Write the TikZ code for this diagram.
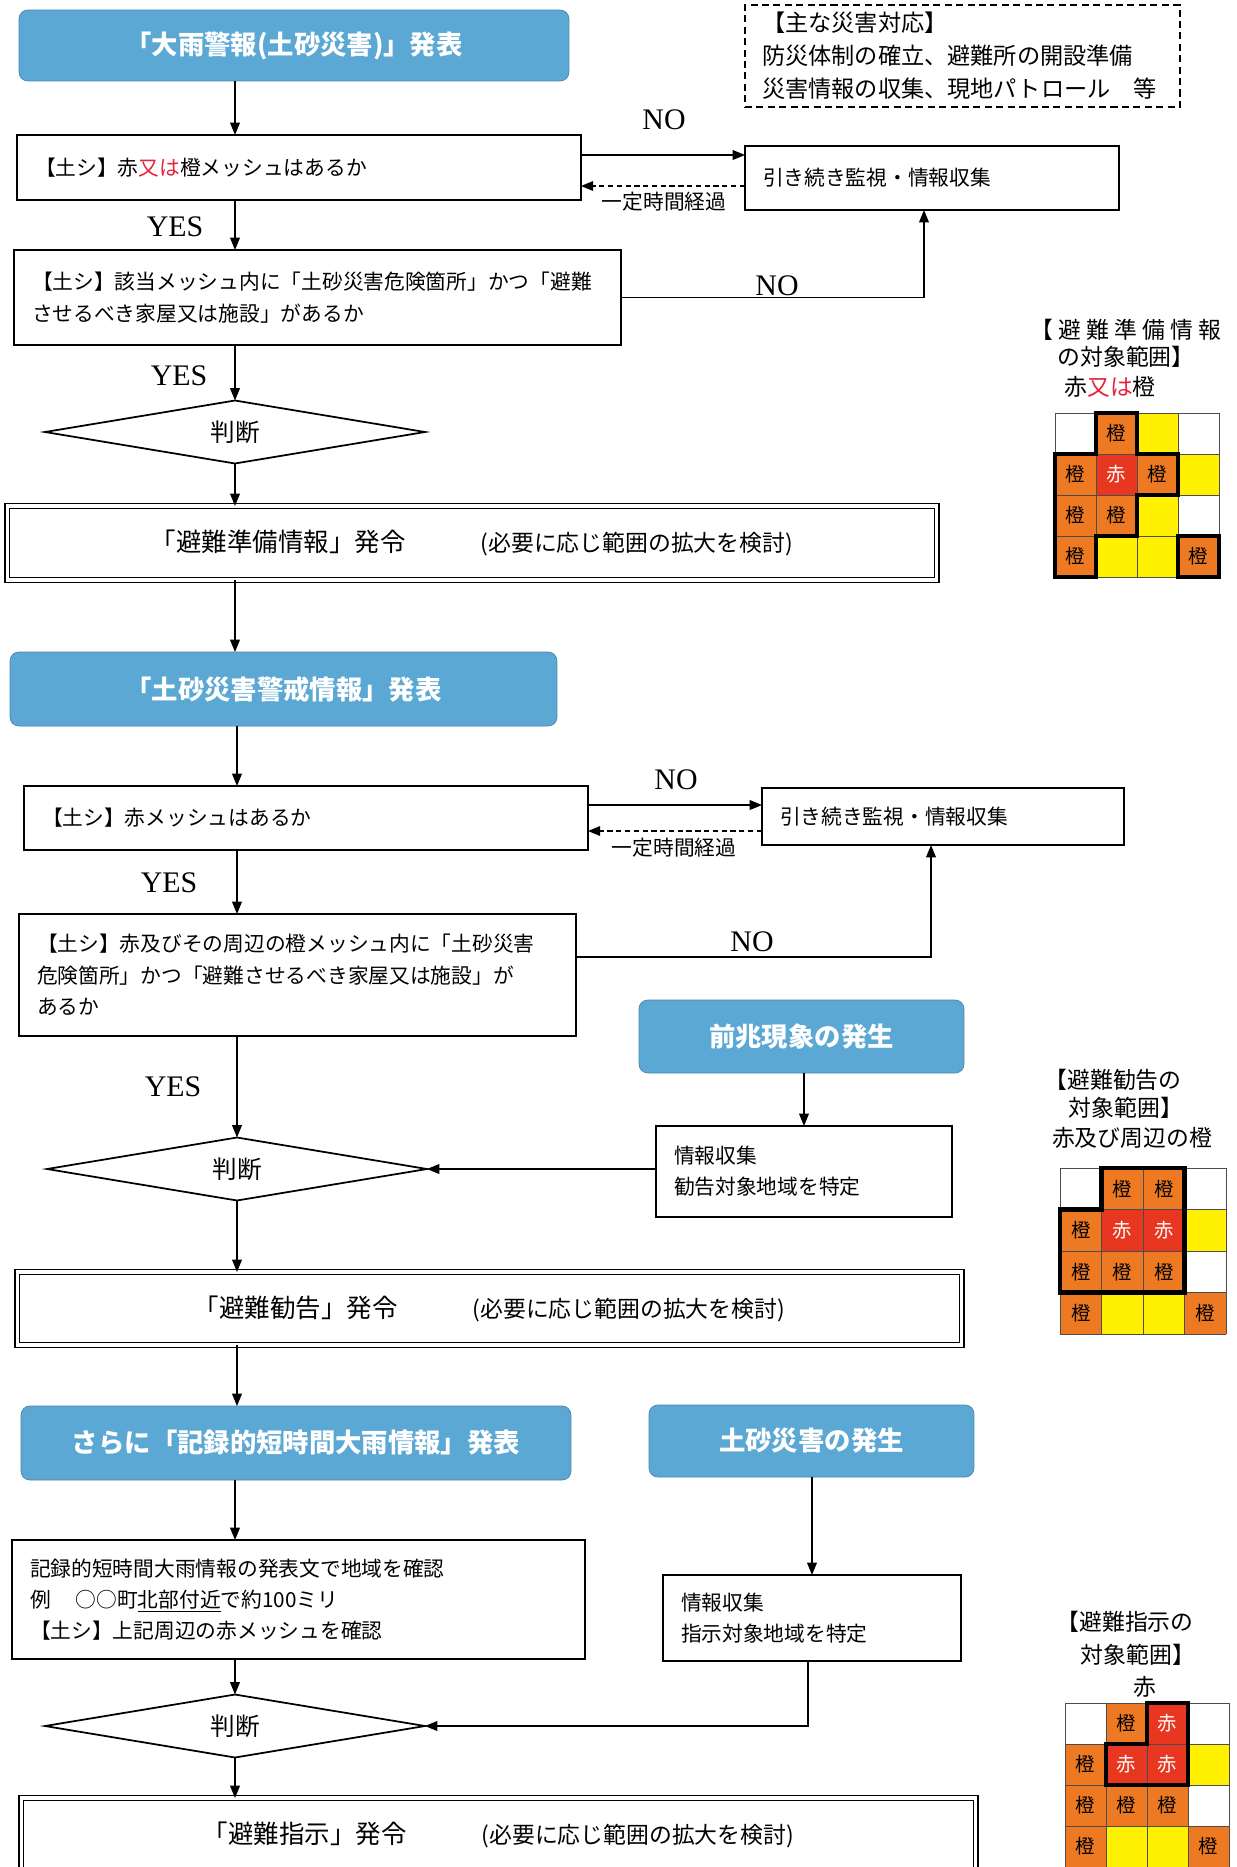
\documentclass[tikz,border=0pt]{standalone}
\usepackage{fontspec}
\setmainfont{Noto Sans CJK JP}
\newfontfamily\latinfont{Liberation Serif}
\usetikzlibrary{shapes.geometric,arrows.meta}
\definecolor{eventblue}{RGB}{91,168,213}
\definecolor{meshorange}{RGB}{237,121,35}
\definecolor{meshred}{RGB}{232,55,32}
\definecolor{meshyellow}{RGB}{255,241,0}
\definecolor{textred}{RGB}{230,35,60}

\begin{document}
\begin{tikzpicture}[
		x=0.02cm, y=-0.02cm,
		every node/.style={inner sep=0pt, outer sep=0pt},
		event/.style={rectangle, rounded corners=5pt, fill=eventblue, draw=eventblue!80!black, line width=0.4pt, text=white, font=\fontsize{15pt}{18pt}\selectfont\bfseries},
		query/.style={rectangle, draw, line width=1pt, fill=white, align=left, inner xsep=0.36cm, font=\fontsize{11.8pt}{17.8pt}\selectfont},
		order/.style={rectangle, draw, double, double distance=1.8pt, line width=0.7pt, fill=white},
		judge/.style={diamond, aspect=6, draw, line width=1pt, minimum width=7.6cm, minimum height=1.26cm, font=\fontsize{14pt}{16pt}\selectfont},
		note/.style={font=\fontsize{11.8pt}{14pt}\selectfont},
		yesno/.style={font=\fontsize{17pt}{20pt}\latinfont},
		legend/.style={font=\fontsize{13pt}{15pt}\selectfont},
		mesh/.style={minimum size=0.82cm, font=\fontsize{11pt}{12pt}\selectfont},
		meshline/.style={gray!60!black, line width=0.4pt},
		meshedge/.style={line width=2.6pt},
		arr/.style={-{Triangle[length=7pt,width=5.5pt]}, line width=0.85pt},
		back/.style={arr, dash pattern=on 3pt off 2pt}
	]
  \useasboundingbox[fill=white] (0,0) rectangle (1237,1867);

  % stage 1
  \node (heavy) [event, minimum width=11cm, minimum height=1.42cm] at (294,45.5) {「大雨警報(土砂災害)」発表};
  \node (tasks) [draw, dash pattern=on 4pt off 2.5pt, line width=0.7pt, align=left, text width=8.02cm, inner xsep=0.34cm, minimum height=2.04cm, font=\fontsize{13.2pt}{18.8pt}\selectfont] at (962.5,56) {【主な災害対応】\\防災体制の確立、避難所の開設準備\\災害情報の収集、現地パトロール　等};
  \node (q_1) [query, text width=10.56cm, minimum height=1.3cm] at (299,167.5) {【土シ】赤\textcolor{textred}{又は}橙メッシュはあるか};
  \node (watch_1) [query, text width=6.76cm, minimum height=1.28cm] at (932,178) {引き続き監視・情報収集};
  \node (q_2) [query, text width=11.42cm, minimum height=1.9cm] at (317.5,297.5) {【土シ】該当メッシュ内に「土砂災害危険箇所」かつ「避難\\させるべき家屋又は施設」があるか};
  \node (judge_1) [judge] at (235,432) {判断};
  \node (order_1) [order, minimum width=18.6cm, minimum height=1.48cm] at (472,543) {{\fontsize{14.5pt}{16pt}\selectfont 「避難準備情報」発令}\hspace{1.5cm}{\fontsize{13pt}{15pt}\selectfont (必要に応じ範囲の拡大を検討)}};
  \node (no_1) [yesno] at (664,120) {NO};
  \node (wait_1) [note] at (664,202) {一定時間経過};
  \node (yes_1) [yesno] at (175,227) {YES};
  \node (no_2) [yesno] at (777,286) {NO};
  \node (yes_2) [yesno] at (179,376) {YES};

  % stage 2
  \node (alert) [event, minimum width=10.94cm, minimum height=1.48cm] at (283.5,689) {「土砂災害警戒情報」発表};
  \node (q_3) [query, text width=10.56cm, minimum height=1.28cm] at (306,818) {【土シ】赤メッシュはあるか};
  \node (watch_2) [query, text width=6.52cm, minimum height=1.14cm] at (943,816.5) {引き続き監視・情報収集};
  \node (q_4) [query, text width=10.42cm, minimum height=2.44cm] at (297.5,975) {【土シ】赤及びその周辺の橙メッシュ内に「土砂災害\\危険箇所」かつ「避難させるべき家屋又は施設」が\\あるか};
  \node (sign) [event, minimum width=6.5cm, minimum height=1.46cm] at (801.5,1036.5) {前兆現象の発生};
  \node (info_1) [query, text width=5.2cm, minimum height=1.82cm] at (804,1171.5) {情報収集\\勧告対象地域を特定};
  \node (judge_2) [judge] at (237,1169) {判断};
  \node (order_2) [order, minimum width=18.9cm, minimum height=1.46cm] at (489.5,1308.5) {{\fontsize{14.5pt}{16pt}\selectfont 「避難勧告」発令}\hspace{1.5cm}{\fontsize{13pt}{15pt}\selectfont (必要に応じ範囲の拡大を検討)}};
  \node (no_3) [yesno] at (676,780) {NO};
  \node (wait_2) [note] at (674,848) {一定時間経過};
  \node (yes_3) [yesno] at (169,883) {YES};
  \node (no_4) [yesno] at (752,942) {NO};
  \node (yes_4) [yesno] at (173,1087) {YES};

  % stage 3
  \node (record) [event, minimum width=11cm, minimum height=1.48cm] at (296,1443) {さらに「記録的短時間大雨情報」発表};
  \node (slide) [event, minimum width=6.5cm, minimum height=1.44cm] at (811.5,1441) {土砂災害の発生};
  \node (q_5) [query, text width=10.74cm, minimum height=2.38cm] at (298.5,1599.5) {記録的短時間大雨情報の発表文で地域を確認\\例\hspace{1.2em}○○町\underline{北部付近}で約100ミリ\\【土シ】上記周辺の赤メッシュを確認};
  \node (info_2) [query, text width=5.24cm, minimum height=1.72cm] at (812,1618) {情報収集\\指示対象地域を特定};
  \node (judge_3) [judge] at (235,1726) {判断};
  \node (order_3) [order, minimum width=19.1cm, minimum height=1.48cm] at (498.5,1835) {{\fontsize{14.5pt}{16pt}\selectfont 「避難指示」発令}\hspace{1.5cm}{\fontsize{13pt}{15pt}\selectfont (必要に応じ範囲の拡大を検討)}};

  % main column
  \draw [arr] (heavy.south -| judge_1) -- (q_1.north -| judge_1);
  \draw [arr] (q_1.south -| judge_1) -- (q_2.north -| judge_1);
  \draw [arr] (q_2.south -| judge_1) -- (judge_1.north);
  \draw [arr] (judge_1.south) -- (order_1.north -| judge_1);
  \draw [arr] (order_1.south -| judge_1) -- (alert.north -| judge_1);
  \draw [arr] (alert.south -| judge_2) -- (q_3.north -| judge_2);
  \draw [arr] (q_3.south -| judge_2) -- (q_4.north -| judge_2);
  \draw [arr] (q_4.south -| judge_2) -- (judge_2.north);
  \draw [arr] (judge_2.south) -- (order_2.north -| judge_2);
  \draw [arr] (order_2.south -| judge_2) -- (record.north -| judge_2);
  \draw [arr] (record.south -| judge_3) -- (q_5.north -| judge_3);
  \draw [arr] (q_5.south -| judge_3) -- (judge_3.north);
  \draw [arr] (judge_3.south) -- (order_3.north -| judge_3);

  % side branches
  \draw [arr] ([yshift=0.25cm]q_1.east) -- ([yshift=0.25cm]q_1.east -| watch_1.west);
  \draw [back] ([yshift=-0.16cm]watch_1.west) -- ([yshift=-0.16cm]watch_1.west -| q_1.east);
  \draw [arr] (q_2.east) -| ([xshift=-0.16cm]watch_1.south);
  \draw [arr] ([yshift=0.26cm]q_3.east) -- ([yshift=0.26cm]q_3.east -| watch_2.west);
  \draw [back] ([yshift=-0.29cm]watch_2.west) -- ([yshift=-0.29cm]watch_2.west -| q_3.east);
  \draw [arr] ([yshift=0.36cm]q_4.east) -| ([xshift=-0.24cm]watch_2.south);
  \draw [arr] (sign.south -| info_1) -- (info_1.north);
  \draw [arr] (info_1.west |- judge_2) -- (judge_2.east);
  \draw [arr] (slide.south -| info_2) -- (info_2.north);
  \draw [arr] ([xshift=-0.08cm]info_2.south) |- (judge_3.east);

  % meshes
  \node (leg_1a) [legend] at (1126,330) {\addfontfeature{LetterSpace=22}【避難準備情報};
  \node (leg_1b) [legend] at (1126,357) {の対象範囲】};
  \node (leg_1c) [legend] at (1110,387) {赤\textcolor{textred}{又は}橙};
  \begin{scope}[shift={(1055,413)}, x=0.82cm, y=-0.82cm]
    \foreach \c/\r in {1/0,0/1,2/1,0/2,1/2,0/3,3/3}
      \node (m1_\c\r) [mesh, fill=meshorange] at (\c+0.5,\r+0.5) {橙};
    \foreach \c/\r in {1/1}
      \node (m1_\c\r) [mesh, fill=meshred, text=white] at (\c+0.5,\r+0.5) {赤};
    \foreach \c/\r in {2/0,3/1,2/2,1/3,2/3}
      \fill [meshyellow] (\c,\r) rectangle ++(1,1);
    \foreach \i in {0,...,4}
      \draw [meshline] (\i,0) -- (\i,4) (0,\i) -- (4,\i);
    \draw [meshedge] (1,0) -- (2,0) -- (2,1) -- (3,1) -- (3,2) -- (2,2) -- (2,3) -- (1,3) -- (1,4) -- (0,4) -- (0,1) -- (1,1) -- cycle;
    \draw [meshedge] (3,3) rectangle (4,4);
  \end{scope}

  \node (leg_2a) [legend] at (1113,1080) {【避難勧告の};
  \node (leg_2b) [legend] at (1126,1108) {対象範囲】};
  \node (leg_2c) [legend] at (1132,1138) {赤及び周辺の橙};
  \begin{scope}[shift={(1060,1168)}, x=0.83cm, y=-0.83cm]
    \foreach \c/\r in {1/0,2/0,0/1,0/2,1/2,2/2,0/3,3/3}
      \node (m2_\c\r) [mesh, minimum size=0.83cm, fill=meshorange] at (\c+0.5,\r+0.5) {橙};
    \foreach \c/\r in {1/1,2/1}
      \node (m2_\c\r) [mesh, minimum size=0.83cm, fill=meshred, text=white] at (\c+0.5,\r+0.5) {赤};
    \foreach \c/\r in {3/1,1/3,2/3}
      \fill [meshyellow] (\c,\r) rectangle ++(1,1);
    \foreach \i in {0,...,4}
      \draw [meshline] (\i,0) -- (\i,4) (0,\i) -- (4,\i);
    \draw [meshedge] (1,0) -- (3,0) -- (3,3) -- (0,3) -- (0,1) -- (1,1) -- cycle;
  \end{scope}

  \node (leg_3a) [legend] at (1125,1622) {【避難指示の};
  \node (leg_3b) [legend] at (1138,1655) {対象範囲】};
  \node (leg_3c) [legend] at (1145,1687) {赤};
  \begin{scope}[shift={(1065,1703)}, x=0.82cm, y=-0.82cm]
    \foreach \c/\r in {1/0,0/1,0/2,1/2,2/2,0/3,3/3}
      \node (m3_\c\r) [mesh, fill=meshorange] at (\c+0.5,\r+0.5) {橙};
    \foreach \c/\r in {2/0,1/1,2/1}
      \node (m3_\c\r) [mesh, fill=meshred, text=white] at (\c+0.5,\r+0.5) {赤};
    \foreach \c/\r in {3/1,1/3,2/3}
      \fill [meshyellow] (\c,\r) rectangle ++(1,1);
    \foreach \i in {0,...,4}
      \draw [meshline] (\i,0) -- (\i,4) (0,\i) -- (4,\i);
    \draw [meshedge] (2,0) -- (3,0) -- (3,2) -- (1,2) -- (1,1) -- (2,1) -- cycle;
  \end{scope}
\end{tikzpicture}
\end{document}
